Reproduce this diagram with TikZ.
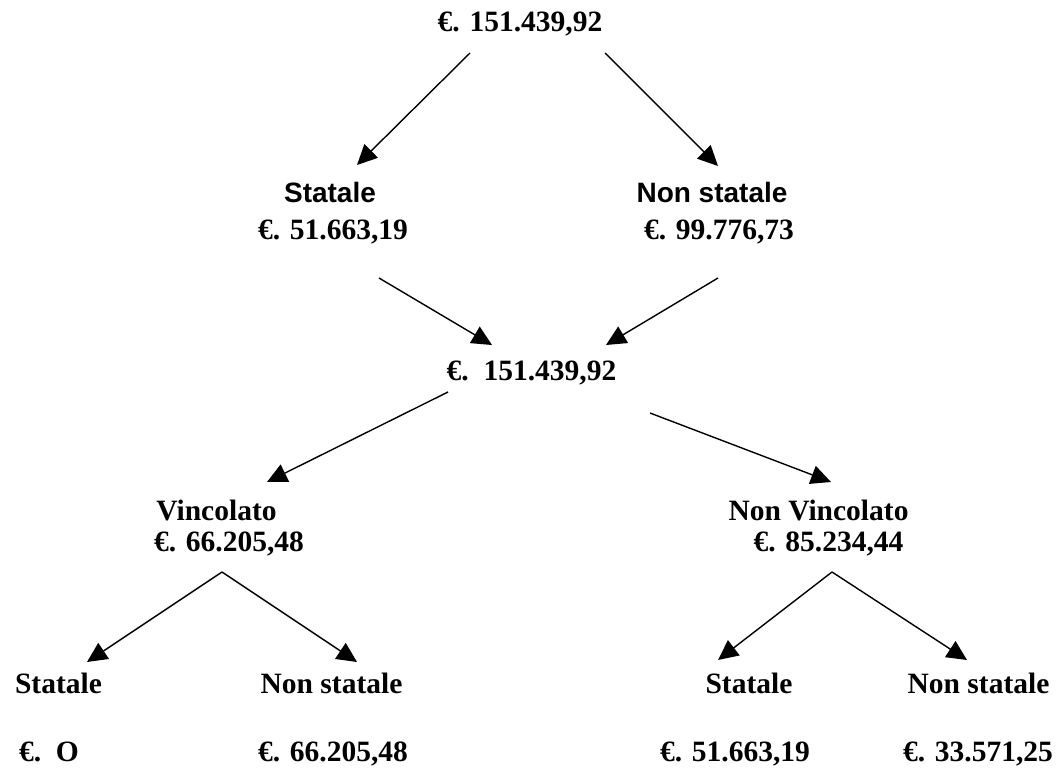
\documentclass[tikz,border=0pt]{standalone}
\usepackage{fontspec}
\setmainfont{Liberation Serif}
\newfontfamily\labelfont{Liberation Sans}
\usetikzlibrary{arrows.meta}

\tikzset{
    amount/.style={anchor=base,inner sep=0pt,font=\bfseries\fontsize{29.5}{34}\selectfont},
    sanslab/.style={anchor=base,inner sep=0pt,font=\labelfont\bfseries\fontsize{28}{32}\selectfont},
    flow/.style={-{Triangle[length=20pt,width=19pt]},line width=1.4pt}
}

\begin{document}
\begin{tikzpicture}[x=1pt,y=-1pt]
        \useasboundingbox (0,0) rectangle (1060,770);

        % livello 1
        \node[amount] (top) at (520,32)  {€. 151.439,92};

        % livello 2
        \node[sanslab] (st)  at (330,203) {Statale};
        \node[amount]  (stv) at (333,240) {€. 51.663,19};
        \node[sanslab] (ns)  at (712,203) {Non statale};
        \node[amount]  (nsv) at (719,240) {€. 99.776,73};

        % livello 3
        \node[amount] (mid) at (531.5,380) {€.~~151.439,92};

        % livello 4
        \node[amount] (vi)  at (216.5,520) {Vincolato};
        \node[amount] (viv) at (229,551)   {€. 66.205,48};
        \node[amount] (nv)  at (818.5,520) {Non Vincolato};
        \node[amount] (nvv) at (828.5,551) {€. 85.234,44};

        % livello 5
        \node[amount] (l1)  at (58.5,693)  {Statale};
        \node[amount] (l1v) at (49,761)    {€.~~O};
        \node[amount] (l2)  at (331.5,693) {Non statale};
        \node[amount] (l2v) at (333,761)   {€. 66.205,48};
        \node[amount] (l3)  at (749,693)   {Statale};
        \node[amount] (l3v) at (735,761)   {€. 51.663,19};
        \node[amount] (l4)  at (978.5,693) {Non statale};
        \node[amount] (l4v) at (978,761)   {€. 33.571,25};

        % frecce
        \draw[flow] ([shift={(-50,21)}]top.base)   -- ([shift={(27,-38)}]st.base);
        \draw[flow] ([shift={(85,21)}]top.base)    -- ([shift={(6,-37)}]ns.base);
        \draw[flow] ([shift={(46,38)}]stv.base)    -- ([shift={(-39.5,-35)}]mid.base);
        \draw[flow] ([shift={(-1,38)}]nsv.base)    -- ([shift={(74.5,-35)}]mid.base);
        \draw[flow] ([shift={(-83.5,12)}]mid.base) -- ([shift={(50.5,-38)}]vi.base);
        \draw[flow] ([shift={(118.5,33)}]mid.base) -- ([shift={(12.5,-38)}]nv.base);
        \draw[flow] ([shift={(-7,21)}]viv.base)    -- ([shift={(28.5,-31)}]l1.base);
        \draw[flow] ([shift={(-7,21)}]viv.base)    -- ([shift={(25.5,-31)}]l2.base);
        \draw[flow] ([shift={(3.5,21)}]nvv.base)   -- ([shift={(-31,-33)}]l3.base);
        \draw[flow] ([shift={(3.5,21)}]nvv.base)   -- ([shift={(-11.5,-33)}]l4.base);
    \end{tikzpicture}
\end{document}
